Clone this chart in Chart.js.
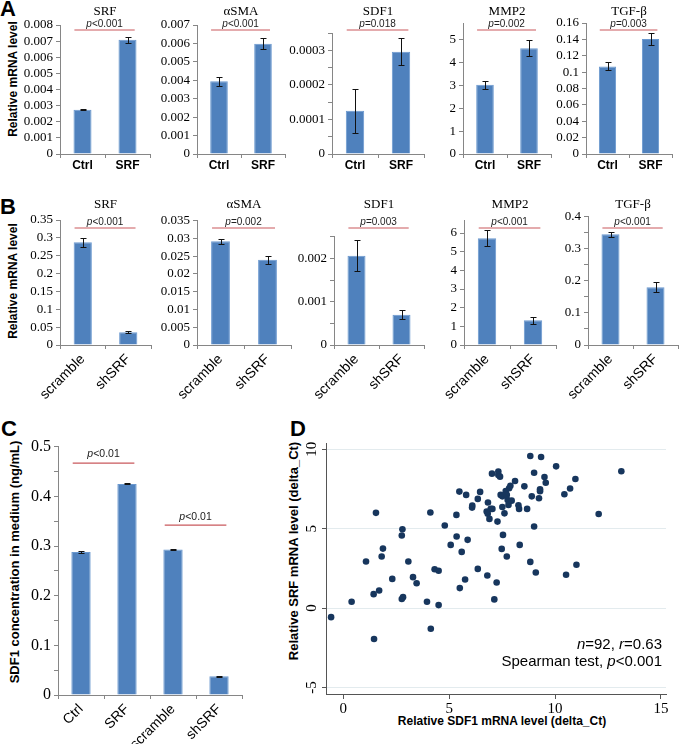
<!DOCTYPE html>
<html>
<head>
<meta charset="utf-8">
<script src="https://cdn.jsdelivr.net/npm/chart.js@4.4.0/dist/chart.umd.min.js"></script>
<style>
body { margin: 0; background: #fff; }
#fig { position: relative; width: 680px; height: 744px; background: #fff; overflow: hidden; }
#fig canvas { position: absolute; }
.lab { position: absolute; font-family: 'Liberation Sans', Arial, sans-serif; font-weight: bold; color: #000; white-space: nowrap; line-height: 1; }
.panel { font-size: 22px; }
.vt { transform: translate(-50%, -50%) rotate(-90deg); }
.ht { transform: translate(-50%, -50%); }
</style>
</head>
<body>
<div id="fig">
  <div class="lab panel" style="left:0px;top:-2px">A</div>
  <div class="lab panel" style="left:0px;top:196px">B</div>
  <div class="lab panel" style="left:1px;top:418px">C</div>
  <div class="lab panel" style="left:290px;top:418px">D</div>
  <div class="lab vt" style="left:13px;top:79px;font-size:12px">Relative mRNA level</div>
  <div class="lab vt" style="left:13px;top:281px;font-size:12px">Relative mRNA level</div>
  <div class="lab vt" style="left:14px;top:562px;font-size:13px">SDF1 concentration in medium (ng/mL)</div>
  <div class="lab vt" style="left:293px;top:551px;font-size:13px">Relative SRF mRNA level (delta_Ct)</div>
  <div class="lab ht" style="left:502px;top:721px;font-size:12px">Relative SDF1 mRNA level (delta_Ct)</div>
</div>
<script>
/* data */
/////////////////////////////////////////////////////////////////
const labelsA = ['Ctrl', 'SRF'];
const labelsB = ['scramble', 'shSRF'];
const labelsC = ['Ctrl', 'SRF', 'scramble', 'shSRF'];
const genes = ['SRF', 'αSMA', 'SDF1', 'MMP2', 'TGF-β'];

// A: SRF overexpression
const meanA_SRF = [0.00275, 0.00708];
const errA_SRF = [0.00003, 0.0002];
const meanA_SMA = [0.00395, 0.00598];
const errA_SMA = [0.00025, 0.0003];
const meanA_SDF1 = [0.000125, 0.000296];
const errA_SDF1 = [0.000063, 0.00004];
const meanA_MMP2 = [3.03, 4.63];
const errA_MMP2 = [0.18, 0.34];
const meanA_TGF = [0.107, 0.1405];
const errA_TGF = [0.005, 0.0075];
const pA = ['<0.001', '<0.001', '=0.018', '=0.002', '=0.003'];
const yMaxA = [0.008, 0.007, 0.00035, 5.73, 0.16];
const yStepA = [0.001, 0.001, 0.00005, 1, 0.02];
const yLabelA = [0.001, 0.001, 0.0001, 1, 0.02];

// B: SRF knockdown
const meanB_SRF = [0.288, 0.036];
const errB_SRF = [0.013, 0.002];
const meanB_SMA = [0.0292, 0.0240];
const errB_SMA = [0.0007, 0.0011];
const meanB_SDF1 = [0.00206, 0.0007];
const errB_SDF1 = [0.00036, 0.0001];
const meanB_MMP2 = [5.72, 1.32];
const errB_MMP2 = [0.43, 0.2];
const meanB_TGF = [0.345, 0.18];
const errB_TGF = [0.008, 0.016];
const pB = ['<0.001', '=0.002', '=0.003', '<0.001', '<0.001'];
const yMaxB = [0.35, 0.035, 0.0025, 6.7, 0.4];
const yStepB = [0.05, 0.005, 0.0005, 1, 0.05];
const yLabelB = [0.05, 0.005, 0.001, 1, 0.1];

// C: SDF1 in medium
const meanC = [0.288, 0.425, 0.293, 0.038];
const errC = [0.0015, 0.001, 0.0015, 0.0012];
const pC = ['<0.01', '<0.01'];
const pLineC = [0.467, 0.342];

// D: correlation
const sdf1Ct = [-0.58, 0.39, 1.07, 1.54, 1.43, 1.69, 1.45, 1.81, 1.87, 2.31,
  2.76, 2.79, 2.76, 2.82, 3.07, 3.29, 3.46, 4.11, 3.95, 4.13,
  4.31, 4.50, 4.50, 4.79, 5.07, 5.34, 5.35, 5.48, 5.59, 5.75,
  5.50, 5.80, 5.87, 6.08, 6.09, 6.35, 6.35, 6.46, 6.80, 6.83,
  6.82, 6.90, 6.96, 7.04, 7.02, 7.28, 7.24, 7.13, 7.32, 7.32,
  7.43, 7.51, 7.51, 7.54, 7.48, 7.61, 7.72, 7.67, 7.76, 7.80,
  7.83, 7.89, 7.95, 8.11, 8.27, 8.30, 8.33, 8.55, 8.68, 8.83,
  8.90, 8.83, 9.01, 9.01, 9.09, 9.34, 9.29, 9.29, 9.24, 9.50,
  9.56, 10.05, 10.44, 10.52, 10.71, 10.96, 11.01, 12.06, 13.13, 7.72,
  6.77, 7.40];
const srfCt = [-0.57, 0.40, 2.94, 6.00, 0.88, 1.11, -1.95, 3.25, 3.75, 1.84,
  4.57, 4.97, 0.57, 0.69, 2.94, 1.95, 1.57, 6.02, 0.40, -1.30,
  2.45, 2.35, 0.19, 5.20, 3.98, 5.87, 4.51, 7.34, 3.54, 1.80,
  1.26, 7.13, 4.30, 6.33, 6.46, 2.47, 6.88, 7.32, 2.05, 6.65,
  5.95, 5.62, 6.25, 6.25, 8.47, 5.45, 1.61, 0.55, 8.60, 8.39,
  7.13, 7.04, 6.37, 4.61, 3.73, 5.97, 3.25, 7.38, 6.81, 6.50,
  7.55, 7.71, 6.77, 8.01, 6.48, 6.25, 3.98, 7.67, 6.25, 9.58,
  7.04, 2.91, 8.53, 5.14, 2.24, 9.52, 7.36, 7.48, 6.92, 8.26,
  7.90, 8.93, 7.17, 2.10, 7.53, 8.13, 2.73, 5.93, 8.62, 7.13,
  6.08, 8.28];
const statN = 92;
const statR = 0.63;
/////////////////////////////////////////////////////////////////

const AXIS = '#868686';
const BAR = '#4f81bd';
const SERIF = "'Liberation Serif', 'Times New Roman', serif";
const SANS = "'Liberation Sans', Arial, sans-serif";

function addCanvas(left, top, w, h) {
    let c = document.createElement('canvas');
    c.width = w;
    c.height = h;
    c.style.left = left + 'px';
    c.style.top = top + 'px';
    c.style.width = w + 'px';
    c.style.height = h + 'px';
    document.getElementById('fig').appendChild(c);
    return c;
}

function isMultiple(v, e) {
    return Math.abs(v / e - Math.round(v / e)) < 1e-6;
}

/* writes an italic p followed by the rest, centred on cx */
function drawP(ctx, rest, cx, cy, size) {
    ctx.save();
    ctx.textBaseline = 'middle';
    ctx.textAlign = 'left';
    ctx.fillStyle = '#222';
    ctx.font = 'italic ' + size + 'px ' + SANS;
    let w1 = ctx.measureText('p').width;
    ctx.font = size + 'px ' + SANS;
    let w2 = ctx.measureText(rest).width;
    let x = cx - (w1 + w2) / 2;
    ctx.font = 'italic ' + size + 'px ' + SANS;
    ctx.fillText('p', x, cy);
    ctx.font = size + 'px ' + SANS;
    ctx.fillText(rest, x + w1, cy);
    ctx.restore();
}

const errorBars = {
    id: 'errorBars',
    afterDatasetsDraw(chart, args, opts) {
        if (!opts.err) return;
        const ctx = chart.ctx;
        const ys = chart.scales.y;
        const vals = chart.data.datasets[0].data;
        ctx.save();
        ctx.strokeStyle = '#111';
        ctx.lineWidth = 1;
        chart.getDatasetMeta(0).data.forEach((bar, i) => {
            let e = opts.err[i];
            let t = Math.round(ys.getPixelForValue(vals[i] + e)) + 0.5;
            let b = Math.round(ys.getPixelForValue(vals[i] - e)) + 0.5;
            let x = Math.round(bar.x) + 0.5;
            ctx.beginPath();
            ctx.moveTo(x, t); ctx.lineTo(x, b);
            ctx.moveTo(x - 3, t); ctx.lineTo(x + 3, t);
            ctx.moveTo(x - 3, b); ctx.lineTo(x + 3, b);
            ctx.stroke();
        });
        ctx.restore();
    }
};

const sigMarks = {
    id: 'sigMarks',
    afterDraw(chart, args, opts) {
        const ctx = chart.ctx;
        const xs = chart.scales.x;
        const ys = chart.scales.y;
        const area = chart.chartArea;
        if (opts.title) {
            ctx.save();
            ctx.font = '13px ' + SERIF;
            ctx.fillStyle = '#000';
            ctx.textAlign = 'center';
            ctx.textBaseline = 'middle';
            ctx.fillText(opts.title, (area.left + area.right) / 2, opts.titleY);
            ctx.restore();
        }
        (opts.pairs || []).forEach(pr => {
            let w = xs.getPixelForValue(1) - xs.getPixelForValue(0);
            let x0 = xs.getPixelForValue(pr.a) - 0.18 * w;
            let x1 = xs.getPixelForValue(pr.b) + 0.16 * w;
            let ly = pr.lineY !== undefined ? pr.lineY : ys.getPixelForValue(pr.at);
            ctx.save();
            ctx.strokeStyle = '#c9585c';
            ctx.lineWidth = 1.2;
            ctx.beginPath();
            ctx.moveTo(x0, ly);
            ctx.lineTo(x1, ly);
            ctx.stroke();
            ctx.restore();
            drawP(ctx, pr.text, (x0 + x1) / 2, ly - pr.dy, pr.size);
        });
    }
};

/* one small bar chart, box = where the axes sit on the page */
function makeBar(box, labels, mean, err, yMax, yStep, yEvery, deco, xFont, yFont, rot) {
    const yw = 50;
    let left = box.axisX - yw;
    let w = box.rightX - left + 3;
    let h = box.bottom + box.xh - box.top;
    let cv = addCanvas(left, box.top, w, h);
    return new Chart(cv, {
        type: 'bar',
        data: {
            labels: labels,
            datasets: [{
                data: mean,
                backgroundColor: BAR,
                borderColor: '#6a98cf',
                borderWidth: { left: 1, right: 1, top: 1, bottom: 0 },
                barPercentage: box.barPct,
                categoryPercentage: 1
            }]
        },
        options: {
            responsive: false,
            animation: false,
            devicePixelRatio: 1,
            layout: { padding: { top: box.topY - box.top, right: 3, left: 0, bottom: 0 } },
            plugins: {
                legend: { display: false },
                tooltip: { enabled: false },
                errorBars: { err: err },
                sigMarks: deco
            },
            scales: {
                x: {
                    grid: { drawOnChartArea: false, offset: true, tickLength: 4, color: AXIS },
                    border: { color: AXIS },
                    ticks: { font: xFont, color: '#000', padding: rot ? 2 : 0,
                        minRotation: rot, maxRotation: rot, autoSkip: false },
                    afterFit: s => { s.height = box.xh; }
                },
                y: {
                    min: 0,
                    max: yMax,
                    grid: { drawOnChartArea: false, tickLength: 4, color: AXIS },
                    border: { color: AXIS },
                    ticks: {
                        stepSize: yStep,
                        includeBounds: false,
                        autoSkip: false,
                        font: yFont,
                        color: '#000',
                        padding: 3,
                        callback: v => isMultiple(v, yEvery) ? String(+v.toFixed(6)) : ''
                    },
                    afterFit: s => { s.width = yw; }
                }
            }
        },
        plugins: [errorBars, sigMarks]
    });
}

/////////////////////////////////////////////////////////////////
const boxesA = [
    { axisX: 60, rightX: 150, topY: 25 },
    { axisX: 197, rightX: 285, topY: 25 },
    { axisX: 332, rightX: 424, topY: 33 },
    { axisX: 463, rightX: 551, topY: 23 },
    { axisX: 586, rightX: 672, topY: 23 }
];
const boxesB = [
    { axisX: 60, rightX: 151, topY: 220 },
    { axisX: 197, rightX: 291, topY: 220.7 },
    { axisX: 334, rightX: 424, topY: 236.7 },
    { axisX: 464, rightX: 556, topY: 220 },
    { axisX: 588, rightX: 678, topY: 216.5 }
];
const rowA = [[meanA_SRF, errA_SRF], [meanA_SMA, errA_SMA], [meanA_SDF1, errA_SDF1],
    [meanA_MMP2, errA_MMP2], [meanA_TGF, errA_TGF]];
const rowB = [[meanB_SRF, errB_SRF], [meanB_SMA, errB_SMA], [meanB_SDF1, errB_SDF1],
    [meanB_MMP2, errB_MMP2], [meanB_TGF, errB_TGF]];

const tickSerif = { family: SERIF, size: 13 };

for (let i = 0; i < 5; i++) {
    let bx = Object.assign({ top: 0, bottom: 154, xh: 22, barPct: 0.4 }, boxesA[i]);
    makeBar(bx, labelsA, rowA[i][0], rowA[i][1], yMaxA[i], yStepA[i], yLabelA[i],
        { title: genes[i], titleY: 12, pairs: [{ a: 0, b: 1, lineY: 30, text: pA[i], dy: 6, size: 10 }] },
        { family: SANS, size: 12, weight: 'bold' }, tickSerif, 0);
}

for (let i = 0; i < 5; i++) {
    let bx = Object.assign({ top: 190, bottom: 345.3, xh: 62, barPct: 0.4 }, boxesB[i]);
    makeBar(bx, labelsB, rowB[i][0], rowB[i][1], yMaxB[i], yStepB[i], yLabelB[i],
        { title: genes[i], titleY: 15, pairs: [{ a: 0, b: 1, lineY: 38, text: pB[i], dy: 6, size: 10 }] },
        { family: SANS, size: 14 }, tickSerif, 45);
}

/* C */
makeBar({ axisX: 58, rightX: 242, top: 425, topY: 446.7, bottom: 695, xh: 50, barPct: 0.42 },
    labelsC, meanC, errC, 0.5, 0.05, 0.1,
    { pairs: [
        { a: 0, b: 1, at: pLineC[0], text: pC[0], dy: 9, size: 10.5 },
        { a: 2, b: 3, at: pLineC[1], text: pC[1], dy: 8, size: 10.5 }
    ] },
    { family: SANS, size: 14 }, { family: SERIF, size: 16 }, 45);

/* D */
/////////////////////////////////////////////////////////////////
const statNote = {
    id: 'statNote',
    afterDraw(chart) {
        const ctx = chart.ctx;
        const a = chart.chartArea;
        const size = 15;
        const lines = [
            [['n', true], ['=' + statN + ', ', false], ['r', true], ['=' + statR, false]],
            [['Spearman test, ', false], ['p', true], ['<0.001', false]]
        ];
        ctx.save();
        ctx.fillStyle = '#000';
        ctx.textBaseline = 'middle';
        ctx.textAlign = 'left';
        lines.forEach((segs, k) => {
            let total = 0;
            segs.forEach(s => {
                ctx.font = (s[1] ? 'italic ' : '') + size + 'px ' + SANS;
                total += ctx.measureText(s[0]).width;
            });
            let x = a.right - 4 - total;
            let y = a.bottom - 49 + k * 17;
            segs.forEach(s => {
                ctx.font = (s[1] ? 'italic ' : '') + size + 'px ' + SANS;
                ctx.fillText(s[0], x, y);
                x += ctx.measureText(s[0]).width;
            });
        });
        ctx.restore();
    }
};

let cvD = addCanvas(296, 430, 378, 289);
const chartD = new Chart(cvD, {
    type: 'scatter',
    data: {
        datasets: [{
            data: sdf1Ct.map((x, i) => ({ x: x, y: srfCt[i] })),
            backgroundColor: '#17365d',
            borderWidth: 0,
            pointRadius: 3.3
        }]
    },
    options: {
        responsive: false,
        animation: false,
        devicePixelRatio: 1,
        layout: { padding: { top: 13, right: 8, left: 0, bottom: 0 } },
        plugins: { legend: { display: false }, tooltip: { enabled: false } },
        scales: {
            x: {
                type: 'linear',
                min: -0.82,
                max: 15.24,
                grid: { drawOnChartArea: false, tickLength: 5, color: '#555' },
                border: { color: '#555' },
                ticks: { stepSize: 5, includeBounds: false, font: { family: SERIF, size: 15 }, color: '#000', padding: 1 },
                afterFit: s => { s.height = 25; }
            },
            y: {
                min: -5.41,
                max: 10.4,
                grid: { color: '#e3ebee', tickColor: '#555', tickLength: 4 },
                border: { color: '#555' },
                ticks: { stepSize: 5, includeBounds: false, minRotation: 90, maxRotation: 90,
                    crossAlign: 'center', font: { family: SERIF, size: 15 }, color: '#000', padding: 2 },
                afterFit: s => { s.width = 30; }
            }
        }
    },
    plugins: [statNote]
});
/////////////////////////////////////////////////////////////////
</script>
</body>
</html>
